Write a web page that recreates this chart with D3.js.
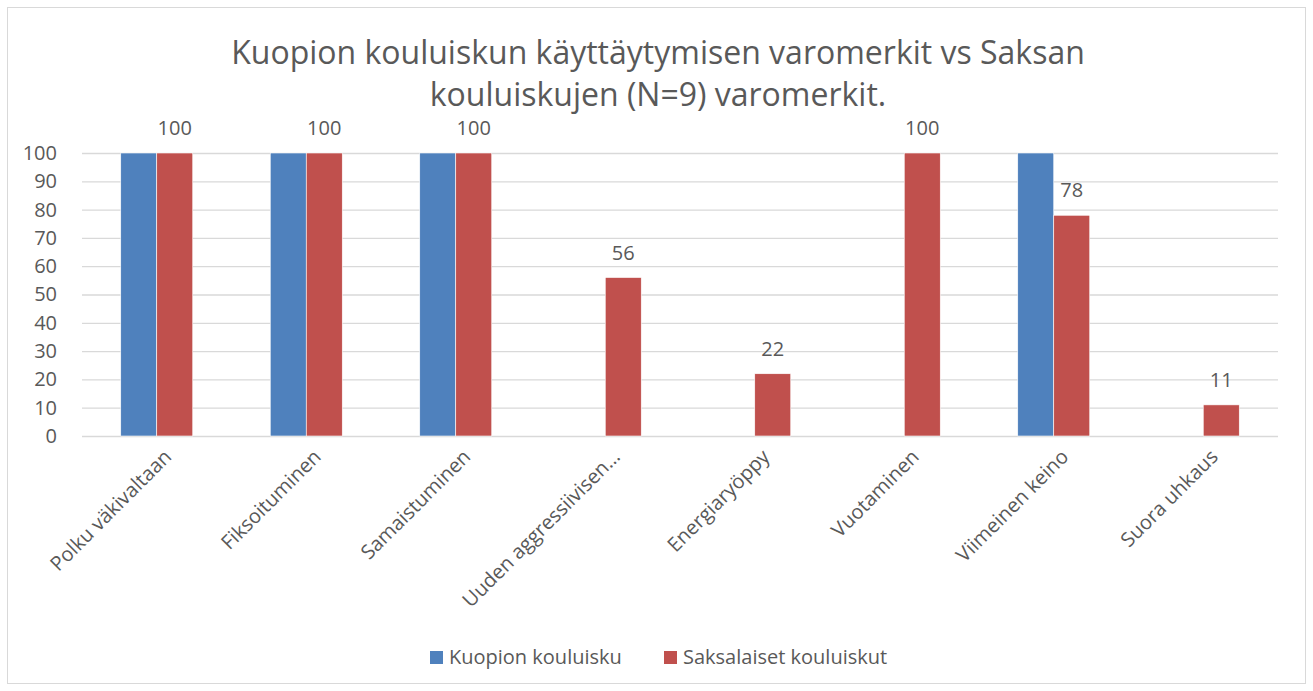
<!DOCTYPE html>
<html>
<head>
<meta charset="utf-8">
<script src="https://cdn.jsdelivr.net/npm/d3@7"></script>
<style>
  body { margin: 0; background: #fff; }
  text { font-family: "Open Sans", sans-serif; fill: #595959; }
</style>
</head>
<body>
<div id="chart"></div>
<script>
const width = 1313,
    height = 691
const margin = {
    top: 153,
    right: 35,
    bottom: 255,
    left: 82
}

// data
const categories = ['Polku väkivaltaan', 'Fiksoituminen', 'Samaistuminen', 'Uuden aggressiivisen…',
    'Energiaryöppy', 'Vuotaminen', 'Viimeinen keino', 'Suora uhkaus']
const kuopio = [100, 100, 100, 0, 0, 0, 100, 0]
const saksa = [100, 100, 100, 56, 22, 100, 78, 11]
const seriesNames = ['Kuopion kouluisku', 'Saksalaiset kouluiskut']
const seriesColors = ['#4f81bd', '#c0504d']
const yTicks = [0, 10, 20, 30, 40, 50, 60, 70, 80, 90, 100]
const titleLines = ['Kuopion kouluiskun käyttäytymisen varomerkit vs Saksan',
    'kouluiskujen (N=9) varomerkit.']

const rows = categories.map(function (c, i) {
    return { cat: c, values: [kuopio[i], saksa[i]] }
})

const svg = d3.select('#chart')
    .append('svg')
    .attr('width', width)
    .attr('height', height)

// outer frame
svg.append('rect')
    .attr('x', 7.5).attr('y', 7.5)
    .attr('width', width - 15).attr('height', height - 15)
    .attr('fill', '#fff')
    .attr('stroke', '#d9d9d9')

const x = d3.scaleBand()
    .domain(categories)
    .range([margin.left, width - margin.right])

const x1 = d3.scaleBand()
    .domain([0, 1])
    .range([x.bandwidth() / 2 - 36, x.bandwidth() / 2 + 36])

const y = d3.scaleLinear()
    .domain([0, 100])
    .range([height - margin.bottom, margin.top])

// gridlines
svg.append('g')
    .selectAll('line')
    .data(yTicks)
    .enter().append('line')
    .attr('x1', margin.left)
    .attr('x2', width - margin.right)
    .attr('y1', function (d) { return y(d) + 0.5 })
    .attr('y2', function (d) { return y(d) + 0.5 })
    .attr('stroke', '#d9d9d9')
    .attr('stroke-width', 1.3)

// y axis labels
const yAxis = svg.append('g')
    .attr('transform', 'translate(' + (margin.left - 25) + ',0)')
    .call(d3.axisLeft(y).tickValues(yTicks).tickSize(0).tickPadding(0))
yAxis.select('.domain').remove()
yAxis.selectAll('text')
    .attr('font-size', 20)
    .style('font-family', '"Open Sans", sans-serif')
    .attr('fill', '#595959')

// bars
const groups = svg.append('g')
    .selectAll('g')
    .data(rows)
    .enter().append('g')
    .attr('transform', function (d) { return 'translate(' + x(d.cat) + ',0)' })

groups.selectAll('rect')
    .data(function (d) { return d.values })
    .enter().append('rect')
    .attr('x', function (d, i) { return x1(i) })
    .attr('width', x1.bandwidth())
    .attr('y', function (d) { return y(d) })
    .attr('height', function (d) { return y(0) - y(d) })
    .attr('fill', function (d, i) { return seriesColors[i] })
    .attr('stroke', '#fff')
    .attr('stroke-width', 0.6)
    .style('display', function (d) { return d > 0 ? null : 'none' })

// data labels (only for Saksalaiset)
groups.append('text')
    .attr('x', x1(1) + x1.bandwidth() / 2)
    .attr('y', function (d) { return y(d.values[1]) - 18 })
    .attr('text-anchor', 'middle')
    .attr('font-size', 20)
    .attr('fill', '#404040')
    .text(function (d) { return d.values[1] })

// x labels rotated
svg.append('g')
    .selectAll('text')
    .data(categories)
    .enter().append('text')
    .attr('transform', function (d) {
        return 'translate(' + (x(d) + x.bandwidth() / 2 + 6) + ',' + (y(0) + 12) + ') rotate(-45)'
    })
    .attr('text-anchor', 'end')
    .attr('dy', '0.71em')
    .attr('font-size', 20)
    .text(function (d) { return d })

// title
svg.append('g')
    .selectAll('text')
    .data(titleLines)
    .enter().append('text')
    .attr('x', 658)
    .attr('y', function (d, i) { return 64 + i * 42 })
    .attr('text-anchor', 'middle')
    .attr('font-size', 32)
    .text(function (d) { return d })

// legend
const legend = svg.append('g')
    .attr('transform', 'translate(430,657)')
const legendX = [0, 234]
const items = legend.selectAll('g')
    .data(seriesNames)
    .enter().append('g')
    .attr('transform', function (d, i) { return 'translate(' + legendX[i] + ',0)' })
items.append('rect')
    .attr('x', 0).attr('y', -6)
    .attr('width', 13).attr('height', 13)
    .attr('fill', function (d, i) { return seriesColors[i] })
items.append('text')
    .attr('x', 19)
    .attr('dy', '0.35em')
    .attr('font-size', 20)
    .text(function (d) { return d })
</script>
</body>
</html>
